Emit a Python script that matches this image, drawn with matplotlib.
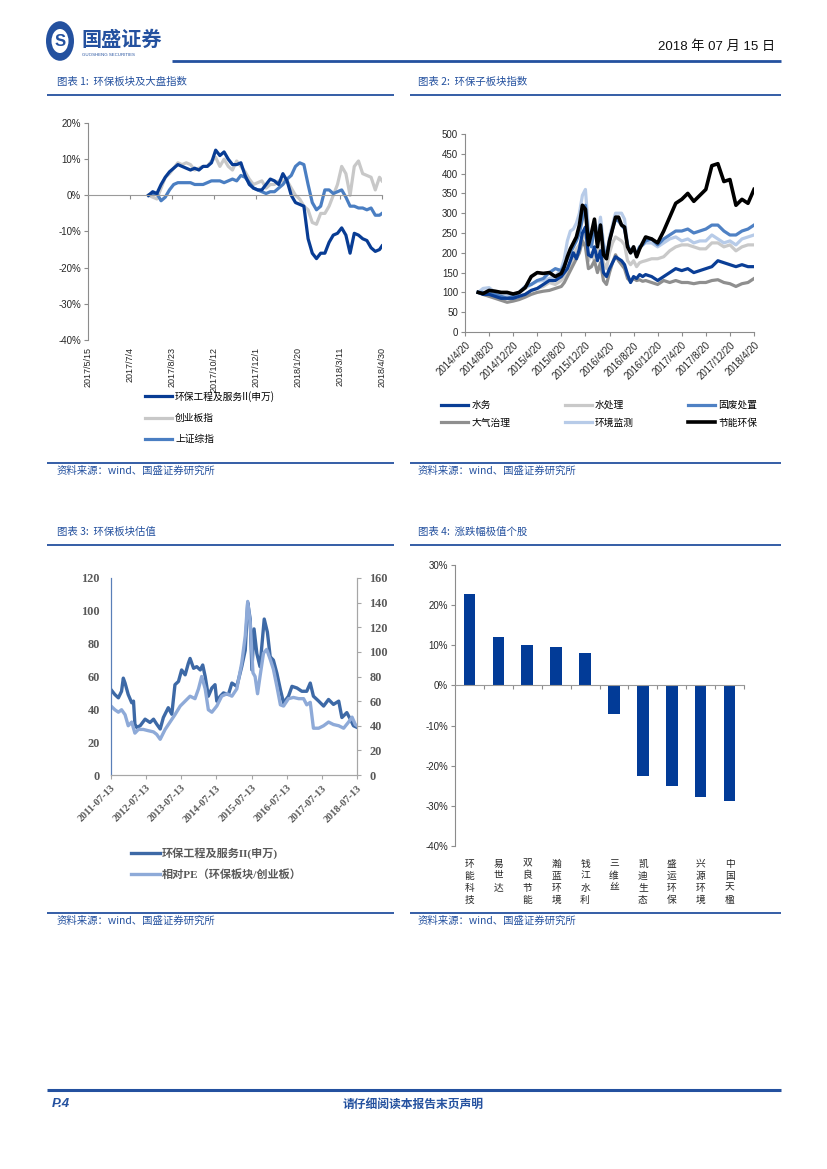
import matplotlib
matplotlib.use('Agg')
import matplotlib.pyplot as plt
from matplotlib.lines import Line2D
from matplotlib.patches import Circle
import numpy as np

CJK = ['Noto Sans CJK SC', 'DejaVu Sans']
SANS = ['Liberation Sans', 'Noto Sans CJK SC', 'DejaVu Sans']
SERIF = ['Liberation Serif', 'Noto Sans CJK SC', 'DejaVu Sans']
plt.rcParams['font.family'] = SANS
plt.rcParams['axes.unicode_minus'] = False

BLUE = '#24519f'
GRAY = '#8c8c8c'
TXT = '#262626'

# ---------------- data ----------------
# Chart 1: days since 2017/5/15
c1_tick_days = [0, 50, 100, 150, 200, 250, 300, 350]
c1_tick_labels = ['2017/5/15', '2017/7/4', '2017/8/23', '2017/10/12', '2017/12/1',
                  '2018/1/20', '2018/3/11', '2018/4/30']
c1_days = [72, 77, 82, 87, 92, 97, 102, 107, 112, 117, 122, 127, 132, 137, 142, 147, 152,
           157, 162, 167, 172, 177, 182, 187, 192, 197, 202, 207, 212, 217, 222, 227, 232,
           237, 242, 247, 252, 257, 262, 267, 272, 277, 282, 287, 292, 297, 302, 307, 312,
           317, 322, 327, 332, 337, 342, 347, 350]
c1_service = [0, 1.0, 0.5, 3.0, 5.0, 6.5, 7.5, 8.5, 8.0, 7.5, 7.0, 7.5, 7.0, 8.0, 8.0, 9.0,
              12.5, 11.0, 12.0, 10.0, 8.5, 8.5, 9.0, 5.5, 3.0, 2.0, 1.5, 1.5, 3.0, 4.5, 4.0,
              3.0, 6.0, 4.0, 0.0, -2.0, -2.5, -3.0, -12.0, -16.0, -17.5, -16.0, -16.0, -13.0,
              -11.0, -10.5, -9.0, -11.0, -16.0, -10.5, -11.0, -12.0, -12.5, -14.5, -15.5,
              -15.0, -14.0]
c1_cyb = [0, -0.5, -1.0, 2.0, 5.0, 6.0, 7.5, 9.0, 8.5, 9.0, 8.5, 7.0, 7.5, 8.0, 8.0, 9.5,
          10.5, 8.0, 10.0, 8.0, 7.0, 9.5, 8.0, 6.5, 4.5, 3.0, 3.5, 4.0, 2.0, 3.0, 3.0, 4.0,
          4.0, 4.0, 2.0, 0.0, -1.0, -3.0, -4.0, -7.5, -8.0, -5.0, -5.0, -3.0, 0.0, 3.0, 8.0,
          6.0, 0.0, 8.0, 9.5, 6.0, 5.5, 5.0, 1.5, 5.0, 4.0]
c1_sh = [0, 0.5, 0.5, -1.5, -0.5, 1.5, 3.0, 3.5, 3.5, 3.5, 3.5, 3.0, 3.0, 3.0, 3.5, 4.0,
         4.0, 4.0, 3.5, 4.0, 4.5, 4.0, 5.5, 5.0, 3.5, 2.0, 1.5, 1.0, 0.5, 1.0, 1.0, 2.0, 3.0,
         4.5, 5.5, 8.0, 9.0, 8.5, 3.0, -2.0, -4.0, -3.0, 1.5, 1.5, 0.5, 1.0, 1.5, -0.5,
         -3.0, -3.0, -3.5, -3.5, -4.0, -3.5, -5.5, -5.5, -5.0]
c1_names = ['环保工程及服务II(申万)', '创业板指', '上证综指']

# Chart 2: months since 2014/4/20
c2_tick_months = [0, 4, 8, 12, 16, 20, 24, 28, 32, 36, 40, 44, 48]
c2_tick_labels = ['2014/4/20', '2014/8/20', '2014/12/20', '2015/4/20', '2015/8/20',
                  '2015/12/20', '2016/4/20', '2016/8/20', '2016/12/20', '2017/4/20',
                  '2017/8/20', '2017/12/20', '2018/4/20']
c2_months = [2.2, 3, 4, 5, 6, 7, 8, 9, 10, 11, 12, 13, 14, 15, 16,
             16.5, 17, 17.5, 18, 18.5, 19, 19.5, 20, 20.5, 21, 21.5, 22, 22.5, 23, 23.5,
             24, 24.5, 25, 25.5, 26, 26.5, 27, 27.5, 28, 28.5, 29, 29.5, 30,
             31, 32, 33, 34, 35, 36, 37, 38, 39, 40, 41, 42, 43, 44, 45, 46, 47, 48]
c2_shuiwu = [100, 95, 95, 90, 85, 85, 85, 90, 95, 105, 110, 120, 130, 130, 140,
             150, 160, 180, 200, 185, 210, 250, 265, 195, 190, 215, 180, 205, 150, 140,
             160, 175, 190, 185, 180, 170, 145, 125, 140, 135, 145, 140, 145,
             140, 130, 140, 150, 160, 155, 160, 150, 155, 160, 165, 180, 175, 170, 165,
             170, 165, 165]
c2_shuichuli = [100, 95, 92, 90, 90, 88, 88, 92, 95, 105, 110, 115, 125, 120, 130,
                140, 150, 170, 190, 210, 220, 235, 250, 180, 200, 180, 205, 210, 175, 160,
                200, 225, 240, 235, 230, 220, 180, 170, 180, 165, 175, 178, 180,
                185, 185, 190, 205, 215, 220, 220, 215, 210, 210, 225, 225, 215, 220, 205,
                215, 220, 220]
c2_gufei = [100, 100, 98, 95, 90, 85, 90, 100, 115, 120, 130, 135, 150, 160, 155,
            170, 185, 200, 215, 230, 250, 285, 320, 240, 215, 265, 230, 270, 210, 190,
            230, 260, 285, 280, 270, 260, 220, 200, 210, 195, 215, 220, 230,
            235, 220, 235, 245, 255, 255, 260, 250, 255, 260, 270, 270, 255, 245, 245,
            255, 260, 270]
c2_daqi = [100, 95, 90, 85, 80, 75, 78, 82, 88, 95, 100, 103, 105, 110, 115,
           125, 140, 155, 170, 185, 200, 230, 215, 160, 165, 180, 150, 175, 130, 120,
           150, 175, 195, 180, 170, 160, 135, 128, 135, 130, 132, 128, 130,
           125, 120, 130, 125, 130, 125, 125, 122, 125, 125, 130, 132, 125, 122, 115,
           122, 125, 135]
c2_jiance = [100, 110, 112, 100, 98, 95, 95, 100, 110, 120, 128, 130, 135, 140, 160,
             185, 230, 255, 260, 275, 300, 345, 360, 260, 220, 280, 240, 290, 225, 195,
             240, 270, 300, 300, 300, 285, 220, 200, 215, 195, 215, 220, 225,
             225, 215, 225, 235, 240, 230, 235, 225, 230, 230, 245, 235, 225, 230, 220,
             235, 240, 245]
c2_jieneng = [100, 97, 105, 103, 100, 100, 96, 100, 112, 140, 150, 148, 150, 140, 148,
              165, 190, 210, 225, 240, 270, 320, 310, 220, 250, 285, 215, 270, 195, 185,
              230, 260, 290, 290, 270, 265, 215, 200, 215, 190, 210, 225, 240,
              235, 225, 255, 290, 325, 335, 350, 330, 345, 360, 420, 425, 380, 385, 320,
              335, 325, 360]

# Chart 3: years since 2011-07-13
c3_tick_years = [0, 1, 2, 3, 4, 5, 6, 7]
c3_tick_labels = ['2011-07-13', '2012-07-13', '2013-07-13', '2014-07-13', '2015-07-13',
                  '2016-07-13', '2017-07-13', '2018-07-13']
c3_pe_x = [0.00, 0.11, 0.21, 0.30, 0.35, 0.40, 0.49, 0.59, 0.64, 0.68, 0.73, 0.83, 0.97,
           1.11, 1.21, 1.30, 1.40, 1.49, 1.63, 1.73, 1.82, 1.92, 2.01, 2.11, 2.20, 2.25,
           2.35, 2.44, 2.54, 2.61, 2.68, 2.77, 2.87, 2.96, 3.01, 3.11, 3.20, 3.34, 3.44,
           3.58, 3.72, 3.82, 3.89, 3.96, 4.01, 4.07, 4.15, 4.24, 4.36, 4.45, 4.53, 4.62,
           4.72, 4.82, 4.91, 5.05, 5.15, 5.29, 5.43, 5.57, 5.67, 5.76, 5.91, 6.05, 6.19,
           6.33, 6.48, 6.57, 6.71, 6.81, 6.90, 7.00]
c3_pe = [52, 49, 47, 51, 59, 56, 49, 44, 45, 31, 29, 30, 34, 32, 34, 31, 28, 35, 41, 37,
         55, 57, 64, 61, 68, 71, 65, 66, 64, 67, 60, 48, 53, 55, 45, 48, 50, 49, 56, 54,
         66, 76, 105, 95, 64, 89, 74, 66, 95, 87, 72, 70, 62, 52, 44, 48, 54, 53, 51, 51,
         56, 48, 45, 42, 46, 43, 45, 35, 38, 34, 30, 29]
c3_rel_x = [0.00, 0.11, 0.21, 0.30, 0.40, 0.49, 0.59, 0.68, 0.78, 0.92, 1.06, 1.21, 1.30,
            1.40, 1.54, 1.68, 1.82, 1.97, 2.11, 2.25, 2.39, 2.49, 2.58, 2.68, 2.77, 2.87,
            3.01, 3.15, 3.30, 3.44, 3.58, 3.72, 3.82, 3.89, 3.96, 4.04, 4.10, 4.17, 4.24,
            4.34, 4.43, 4.53, 4.62, 4.72, 4.82, 4.91, 5.05, 5.19, 5.34, 5.48, 5.57, 5.67,
            5.76, 5.91, 6.05, 6.19, 6.33, 6.48, 6.62, 6.76, 6.86, 6.95, 7.00]
c3_rel = [56, 53, 51, 53, 49, 40, 43, 34, 37, 37, 36, 35, 33, 29, 37, 43, 49, 56, 60, 64,
          62, 70, 80, 70, 53, 51, 56, 64, 66, 64, 70, 91, 113, 141, 124, 83, 80, 66, 80, 99,
          102, 94, 86, 72, 57, 56, 62, 63, 62, 62, 57, 59, 38, 38, 40, 43, 41, 40, 38, 43,
          47, 41, 40]
c3_names = ['环保工程及服务II(申万)', '相对PE（环保板块/创业板）']

# Chart 4
c4_stocks = ['环能科技', '易世达', '双良节能', '瀚蓝环境', '钱江水利', '三维丝',
             '凯迪生态', '盛运环保', '兴源环境', '中国天楹']
c4_values = [22.7, 12.1, 10.1, 9.5, 8.1, -7.0, -22.5, -25.1, -27.9, -28.8]

# ---------------- figure helpers ----------------
W, H = 827, 1169
fig = plt.figure(figsize=(W / 100, H / 100), dpi=100)


def fx(x):
    return x / W


def fy(y):
    return 1 - y / H


def axes_px(l, t, r, b):
    return fig.add_axes([fx(l), fy(b), (r - l) / W, (b - t) / H])


def hline(y, x0, x1, lw=1.2, color=BLUE):
    fig.add_artist(Line2D([fx(x0), fx(x1)], [fy(y), fy(y)], lw=lw, color=color,
                          solid_capstyle='butt'))


def ftext(x, y, s, **kw):
    kw.setdefault('va', 'center')
    fig.text(fx(x), fy(y), s, **kw)


# ---------------- header / footer ----------------
fig.add_artist(Circle((fx(60), fy(41)), 14 / W, transform=fig.transFigure,
                      facecolor=BLUE, edgecolor='none'))
fig.add_artist(Circle((fx(60), fy(41)), 8.5 / W, transform=fig.transFigure,
                      facecolor='white', edgecolor='none'))
ftext(60, 41, 'S', ha='center', fontsize=12, fontweight='bold', color=BLUE,
      family=SANS)
ftext(81, 39, '国盛证券', fontsize=14.5, fontweight='bold', color=BLUE, family=CJK)
ftext(82, 55, 'GUOSHENG SECURITIES', fontsize=3.2, color=BLUE, family=SANS)
hline(61, 172, 781, lw=2.0)
ftext(775, 47, '2018 年 07 月 15 日', ha='right', fontsize=9.5, color='#111111',
      family=SANS)

hline(1090, 47, 781, lw=2.2)
ftext(52, 1104, 'P.4', fontsize=9.5, fontweight='bold', style='italic', color=BLUE,
      family=SANS)
ftext(413, 1104, '请仔细阅读本报告末页声明', ha='center', fontsize=8.5,
      fontweight='bold', color=BLUE, family=CJK)

# section titles / sources
for (x0, x1, tx, ty, title) in [
        (47, 394, 57, 82, '图表 1:  环保板块及大盘指数'),
        (410, 781, 418, 82, '图表 2:  环保子板块指数'),
        (47, 394, 57, 532, '图表 3:  环保板块估值'),
        (410, 781, 418, 532, '图表 4:  涨跌幅极值个股')]:
    ftext(tx, ty, title, fontsize=7.5, color=BLUE, family=CJK, style='italic')
    hline(ty + 13, x0, x1, lw=1.3)

for (x0, x1, tx, ty) in [(47, 394, 57, 471), (410, 781, 418, 471),
                         (47, 394, 57, 921), (410, 781, 418, 921)]:
    hline(ty - 8, x0, x1, lw=1.3)
    ftext(tx, ty, '资料来源：wind、国盛证券研究所', fontsize=7.5, color=BLUE,
          family=CJK, style='italic')

# ---------------- chart 1 ----------------
ax1 = axes_px(88, 123, 382, 340)
l_gray, = ax1.plot(c1_days, c1_cyb, color='#c8c8c8', lw=2.3)
l_med, = ax1.plot(c1_days, c1_sh, color='#4a7ec2', lw=2.3)
l_dark, = ax1.plot(c1_days, c1_service, color='#083c94', lw=2.3)
ax1.set_xlim(0, 350)
ax1.set_ylim(-40, 20)
for s in ['top', 'right']:
    ax1.spines[s].set_visible(False)
ax1.spines['left'].set_color(GRAY)
ax1.spines['bottom'].set_position(('data', 0))
ax1.spines['bottom'].set_color('#9a9a9a')
ax1.set_yticks([-40, -30, -20, -10, 0, 10, 20])
ax1.set_yticklabels([f'{v}%' for v in [-40, -30, -20, -10, 0, 10, 20]])
ax1.tick_params(axis='y', length=3, color=GRAY, labelsize=7, pad=2, labelcolor=TXT)
ax1.set_xticks(c1_tick_days)
ax1.tick_params(axis='x', length=3, color=GRAY, labelbottom=False)
sec1 = ax1.secondary_xaxis('bottom')
sec1.set_xticks(c1_tick_days)
sec1.set_xticklabels(c1_tick_labels, rotation=90, fontsize=6.5, color=TXT)
sec1.tick_params(length=0, pad=5)
sec1.spines['bottom'].set_visible(False)
fig.legend(handles=[l_dark, l_gray, l_med], labels=c1_names, loc='upper left',
           bbox_to_anchor=(fx(145), fy(391)), frameon=False,
           prop={'family': CJK, 'size': 7}, handlelength=2.8, handletextpad=0.3,
           labelspacing=1.15, borderpad=0, borderaxespad=0)

# ---------------- chart 2 ----------------
ax2 = axes_px(465, 134, 754, 332)
h_scl, = ax2.plot(c2_months, c2_shuichuli, color='#c9c9c9', lw=2.3)
h_jc, = ax2.plot(c2_months, c2_jiance, color='#b7cbe8', lw=2.3)
h_gf, = ax2.plot(c2_months, c2_gufei, color='#4f81c4', lw=2.3)
h_dq, = ax2.plot(c2_months, c2_daqi, color='#8f8f8f', lw=2.3)
h_sw, = ax2.plot(c2_months, c2_shuiwu, color='#0a3e96', lw=2.3)
h_jn, = ax2.plot(c2_months, c2_jieneng, color='#000000', lw=2.6)
ax2.set_xlim(0, 48)
ax2.set_ylim(0, 500)
for s in ['top', 'right']:
    ax2.spines[s].set_visible(False)
ax2.spines['left'].set_color(GRAY)
ax2.spines['bottom'].set_color(GRAY)
ax2.set_yticks(list(range(0, 501, 50)))
ax2.tick_params(axis='y', length=3, color=GRAY, labelsize=7, pad=2, labelcolor=TXT)
ax2.set_xticks(c2_tick_months)
ax2.set_xticklabels(c2_tick_labels, rotation=45, ha='right', rotation_mode='anchor',
                    fontsize=7, color=TXT)
ax2.tick_params(axis='x', length=3, color=GRAY, pad=3)
fig.legend(handles=[h_sw, h_dq, h_scl, h_jc, h_gf, h_jn],
           labels=['水务', '大气治理', '水处理', '环境监测', '固废处置', '节能环保'],
           ncol=3, loc='upper left', bbox_to_anchor=(fx(441), fy(400)), frameon=False,
           prop={'family': CJK, 'size': 7}, handlelength=2.8, handletextpad=0.3,
           labelspacing=0.8, columnspacing=5.6, borderpad=0, borderaxespad=0)

# ---------------- chart 3 ----------------
S3 = '#595959'
ax3 = axes_px(111, 578, 357, 775)
h_pe, = ax3.plot(c3_pe_x, c3_pe, color='#3d69a6', lw=2.4)
ax3b = ax3.twinx()
h_rel, = ax3b.plot(c3_rel_x, c3_rel, color='#8eaad8', lw=2.4)
ax3.set_xlim(0, 7)
ax3.set_ylim(0, 120)
ax3b.set_ylim(0, 160)
ax3.set_yticks(list(range(0, 121, 20)))
ax3b.set_yticks(list(range(0, 161, 20)))
for a in (ax3, ax3b):
    a.spines['top'].set_visible(False)
    a.spines['left'].set_color('#5a7fb8')
    a.spines['right'].set_color('#a6a6a6')
    a.spines['bottom'].set_color('#a6a6a6')
ax3.tick_params(axis='y', length=0, pad=8)
ax3b.tick_params(axis='y', length=3, color='#a6a6a6', pad=6)
for lab in ax3.get_yticklabels() + ax3b.get_yticklabels():
    lab.set_family(SERIF)
    lab.set_fontweight('bold')
    lab.set_fontsize(8.8)
    lab.set_color(S3)
ax3.set_xticks(c3_tick_years)
ax3.set_xticklabels(c3_tick_labels, rotation=45, ha='right', rotation_mode='anchor',
                    fontsize=7.5, color=S3, family=SERIF, fontweight='bold')
ax3.tick_params(axis='x', length=3, color='#a6a6a6', pad=3)
fig.legend(handles=[h_pe, h_rel], labels=c3_names, loc='upper left',
           bbox_to_anchor=(fx(131), fy(847)), frameon=False,
           prop={'family': SERIF, 'size': 8, 'weight': 'bold'}, labelcolor=S3,
           handlelength=2.6, handletextpad=0.2, labelspacing=0.95, borderpad=0,
           borderaxespad=0)

# ---------------- chart 4 ----------------
ax4 = axes_px(455, 565, 744, 846)
xpos = np.arange(len(c4_stocks))
ax4.bar(xpos, c4_values, width=0.4, color='#023b97')
ax4.set_xlim(-0.5, len(c4_stocks) - 0.5)
ax4.set_ylim(-40, 30)
for s in ['top', 'right']:
    ax4.spines[s].set_visible(False)
ax4.spines['left'].set_color(GRAY)
ax4.spines['bottom'].set_position(('data', 0))
ax4.spines['bottom'].set_color('#9a9a9a')
ax4.set_yticks(list(range(-40, 31, 10)))
ax4.set_yticklabels([f'{v}%' for v in range(-40, 31, 10)])
ax4.tick_params(axis='y', length=3, color=GRAY, labelsize=7, pad=2, labelcolor=TXT)
ax4.set_xticks(xpos + 0.5)
ax4.tick_params(axis='x', length=3, color=GRAY, labelbottom=False)
sec4 = ax4.secondary_xaxis('bottom')
sec4.set_xticks(xpos)
sec4.set_xticklabels(['\n'.join(n) for n in c4_stocks], fontsize=7, color=TXT,
                     family=CJK, linespacing=1.25)
sec4.tick_params(length=0, pad=9)
sec4.spines['bottom'].set_visible(False)

fig.savefig('out.png', dpi=100)
